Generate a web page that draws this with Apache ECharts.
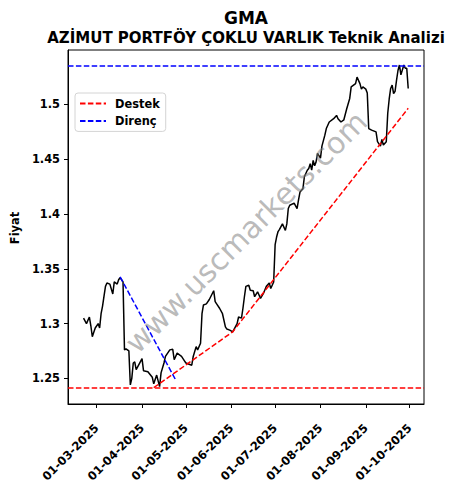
<!DOCTYPE html>
<html>
<head>
<meta charset="utf-8">
<script src="https://cdn.jsdelivr.net/npm/echarts@6/dist/echarts.min.js"></script>
<style>
html,body{margin:0;padding:0;background:#fff;}
#chart{width:458px;height:489px;}
</style>
</head>
<body>
<div id="chart"></div>
<script>
// ---- data ----
const titleText = 'GMA';
const subtitleText = 'AZİMUT PORTFÖY ÇOKLU VARLIK Teknik Analizi';
const yAxisName = 'Fiyat';
const watermarkText = 'www.uscmarkets.com';

const priceDates = [
'2025-02-20','2025-02-22','2025-02-24','2025-02-25','2025-02-26','2025-02-27','2025-02-28',
'2025-03-02','2025-03-03','2025-03-04','2025-03-05','2025-03-06','2025-03-07','2025-03-08','2025-03-10',
'2025-03-12','2025-03-13','2025-03-15','2025-03-16','2025-03-17','2025-03-19','2025-03-20','2025-03-21',
'2025-03-23','2025-03-24','2025-03-25','2025-03-26','2025-03-27','2025-03-28',
'2025-04-01','2025-04-02','2025-04-05','2025-04-08','2025-04-09','2025-04-11','2025-04-13','2025-04-14',
'2025-04-16','2025-04-17','2025-04-20','2025-04-22','2025-04-23','2025-04-25','2025-04-28','2025-04-30',
'2025-05-01','2025-05-05','2025-05-06','2025-05-08','2025-05-09','2025-05-11','2025-05-12','2025-05-13',
'2025-05-15','2025-05-17','2025-05-20','2025-05-21','2025-05-22','2025-05-24','2025-05-26','2025-05-28',
'2025-05-29','2025-05-31',
'2025-06-02','2025-06-05','2025-06-06','2025-06-08','2025-06-09','2025-06-10','2025-06-11','2025-06-13',
'2025-06-14','2025-06-16','2025-06-17','2025-06-19','2025-06-21','2025-06-23','2025-06-25','2025-06-27',
'2025-06-28','2025-06-30',
'2025-07-01','2025-07-02','2025-07-03','2025-07-04','2025-07-06','2025-07-08','2025-07-09','2025-07-10',
'2025-07-11','2025-07-14','2025-07-16','2025-07-17','2025-07-18','2025-07-20','2025-07-21','2025-07-23',
'2025-07-24','2025-07-25','2025-07-26','2025-07-27','2025-07-28','2025-07-29','2025-07-30',
'2025-08-01','2025-08-02','2025-08-04','2025-08-05','2025-08-07','2025-08-10','2025-08-12','2025-08-13',
'2025-08-15','2025-08-17','2025-08-19','2025-08-21','2025-08-22','2025-08-25','2025-08-26','2025-08-27',
'2025-08-28','2025-08-29','2025-08-30',
'2025-09-01','2025-09-02','2025-09-03','2025-09-05','2025-09-08','2025-09-09','2025-09-11','2025-09-12',
'2025-09-13','2025-09-15','2025-09-16','2025-09-17','2025-09-18','2025-09-19','2025-09-20','2025-09-21',
'2025-09-22','2025-09-23','2025-09-24','2025-09-25','2025-09-27','2025-09-28','2025-09-29','2025-09-30'
];
const priceValues = [
1.305,1.300,1.306,1.298,1.288,1.292,1.296,
1.300,1.296,1.309,1.316,1.325,1.334,1.337,1.336,
1.327,1.338,1.336,1.340,1.342,1.338,1.276,1.277,
1.275,1.244,1.250,1.264,1.265,1.258,
1.268,1.257,1.256,1.251,1.245,1.253,1.2425,1.255,
1.264,1.270,1.276,1.2765,1.267,1.273,1.270,1.266,
1.264,1.262,1.270,1.279,1.276,1.282,1.309,1.317,
1.318,1.322,1.330,1.320,1.318,1.314,1.309,1.297,
1.295,1.294,
1.2925,1.300,1.306,1.305,1.314,1.3245,1.334,1.335,
1.3305,1.330,1.3245,1.329,1.323,1.3275,1.334,1.337,
1.332,1.338,
1.372,1.379,1.384,1.386,1.391,1.385,1.391,1.405,
1.408,1.410,1.405,1.413,1.420,1.423,1.434,1.440,
1.4416,1.446,1.440,1.449,1.444,1.4476,1.4553,
1.451,1.462,1.472,1.478,1.484,1.487,1.490,1.487,
1.484,1.486,1.4963,1.5055,1.516,1.519,1.525,1.522,
1.519,1.514,1.516,
1.514,1.5105,1.478,1.4766,1.475,1.466,1.462,1.468,
1.463,1.466,1.492,1.505,1.5146,1.5176,1.510,1.512,
1.522,1.531,1.536,1.527,1.536,1.533,1.533,1.5146
];

const supportLevel = 1.2413;     // Destek
const resistanceLevel = 1.5352;  // Direnç
const supportTrendDates = ['2025-04-09','2025-06-02','2025-09-30'];
const supportTrendValues = [1.2415, 1.2925, 1.4965];
const resistanceTrendDates = ['2025-03-17','2025-04-24'];
const resistanceTrendValues = [1.3427, 1.2485];

const xTickDates = ['2025-03-01','2025-04-01','2025-05-01','2025-06-01','2025-07-01','2025-08-01','2025-09-01','2025-10-01'];
const yTicks = [1.25, 1.30, 1.35, 1.40, 1.45, 1.50];
const xRange = ['2025-02-09 09:00', '2025-10-10 19:00'];
const yRange = [1.2266, 1.5497];
const legendNames = ['Destek', 'Direnç'];

// ---- helpers ----
function ts(s) {
  const [d, t] = s.split(' ');
  const [y, m, dd] = d.split('-').map(Number);
  let h = 0, mi = 0;
  if (t) { [h, mi] = t.split(':').map(Number); }
  return new Date(y, m - 1, dd, h, mi).getTime();
}
function pad(n){ return (n < 10 ? '0' : '') + n; }
function fmtDate(v){ const d = new Date(v); return pad(d.getDate()) + '-' + pad(d.getMonth()+1) + '-' + d.getFullYear(); }
function zip(ds, vs){ return ds.map((d, i) => [ts(d), vs[i]]); }

const xMin = ts(xRange[0]), xMax = ts(xRange[1]);
const FONT = 'DejaVu Sans';
const dash = [5.5, 2.4];

const chart = echarts.init(document.getElementById('chart'), null, {renderer: 'svg', width: 458, height: 489});

const option = {
  animation: false,
  backgroundColor: '#fff',
  grid: {left: 68, right: 34, top: 50, bottom: 85, show: true, borderColor: '#000', borderWidth: 1, backgroundColor: 'transparent'},
  xAxis: {
    type: 'value', min: xMin, max: xMax, scale: true,
    axisLine: {show: true, onZero: false, lineStyle: {color: '#000', width: 1}},
    axisTick: {show: true, length: 4, lineStyle: {color: '#000'}, customValues: xTickDates.map(ts)},
    axisLabel: {
      customValues: xTickDates.map(ts), rotate: 45, margin: 22,
      formatter: v => fmtDate(v),
      fontFamily: FONT, fontWeight: 'bold', fontSize: 11.6, color: '#000',
      hideOverlap: false
    },
    splitLine: {show: false}
  },
  yAxis: {
    type: 'value', min: yRange[0], max: yRange[1], scale: true,
    axisLine: {show: true, onZero: false, lineStyle: {color: '#000', width: 1}},
    axisTick: {show: true, length: 4, lineStyle: {color: '#000'}, customValues: yTicks},
    axisLabel: {
      customValues: yTicks, margin: 8,
      formatter: v => String(+(+v).toFixed(2)),
      fontFamily: FONT, fontWeight: 'bold', fontSize: 11.4, color: '#000'
    },
    splitLine: {show: false}
  },
  legend: {
    data: legendNames, orient: 'vertical', left: 75, top: 93,
    itemWidth: 26, itemHeight: 12, itemGap: 6.4,
    padding: [5, 6, 5, 4],
    backgroundColor: 'rgba(255,255,255,0.8)', borderColor: '#d4d4d4', borderWidth: 1, borderRadius: 3,
    itemStyle: {opacity: 0},
    textStyle: {fontFamily: FONT, fontWeight: 'bold', fontSize: 11.4, color: '#000', padding: [0, 0, 0, 4]},
    selectedMode: false
  },
  graphic: [
    {type: 'text', x: 246, y: 17.5, style: {text: titleText, font: 'bold 17px "DejaVu Sans"', fill: '#000', align: 'center', verticalAlign: 'middle'}, z: 10},
    {type: 'text', x: 246, y: 37.5, style: {text: subtitleText, font: 'bold 15px "DejaVu Sans"', fill: '#000', align: 'center', verticalAlign: 'middle'}, z: 10},
    {type: 'text', x: 15, y: 228, rotation: Math.PI / 2, style: {text: yAxisName, font: 'bold 11.4px "DejaVu Sans"', fill: '#000', align: 'center', verticalAlign: 'middle'}, z: 10},
    {type: 'text', x: 246, y: 232, rotation: Math.PI / 4, style: {text: watermarkText, font: '30px "DejaVu Sans"', fill: 'rgba(128,128,128,0.55)', align: 'center', verticalAlign: 'middle'}, z: 5}
  ],
  series: [
    {
      name: 'Fiyat', type: 'line', data: zip(priceDates, priceValues),
      showSymbol: false, symbol: 'none', lineStyle: {color: '#000', width: 1.5}, z: 3
    },
    {
      name: 'Destek', type: 'line', data: [[xMin, supportLevel], [xMax, supportLevel]],
      symbol: 'none', itemStyle: {color: 'red'}, lineStyle: {color: 'red', width: 1.5, type: dash}, z: 4
    },
    {
      name: 'Direnç', type: 'line', data: [[xMin, resistanceLevel], [xMax, resistanceLevel]],
      symbol: 'none', itemStyle: {color: 'blue'}, lineStyle: {color: 'blue', width: 1.5, type: dash}, z: 4
    },
    {
      name: 'Destek trend', type: 'line', data: zip(supportTrendDates, supportTrendValues),
      symbol: 'none', lineStyle: {color: 'red', width: 1.5, type: dash}, z: 4
    },
    {
      name: 'Direnç trend', type: 'line', data: zip(resistanceTrendDates, resistanceTrendValues),
      symbol: 'none', lineStyle: {color: 'blue', width: 1.5, type: dash}, z: 4
    }
  ]
};
chart.setOption(option);
</script>
</body>
</html>
